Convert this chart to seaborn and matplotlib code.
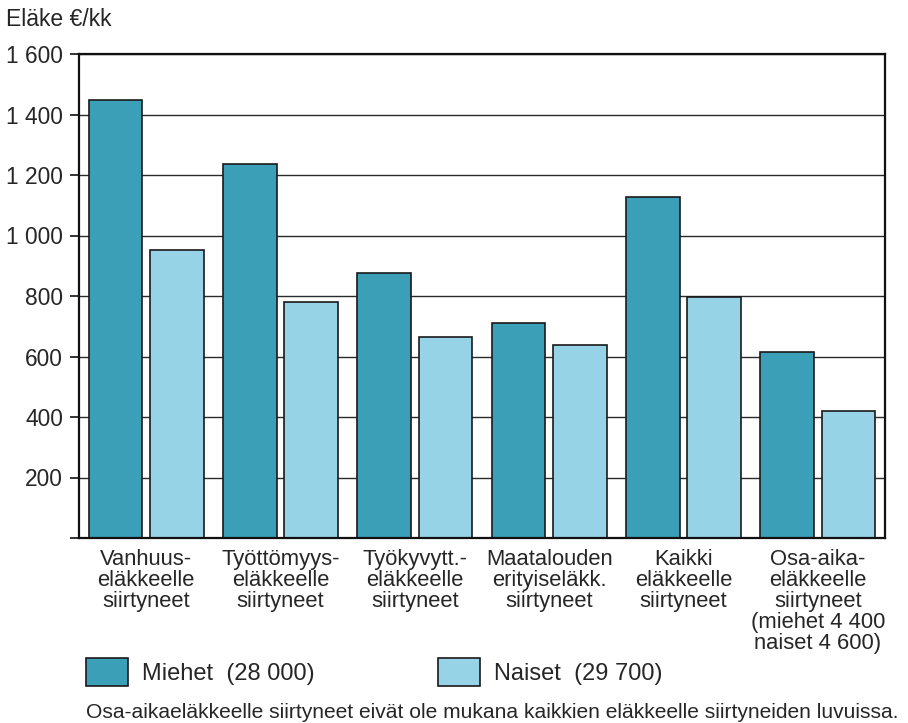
import numpy as np
import pandas as pd
import seaborn as sns
from matplotlib import pyplot as plt
from matplotlib.patches import Patch

# Tiedot
ryhmat = ["Vanhuus-\neläkkeelle\nsiirtyneet",
          "Työttömyys-\neläkkeelle\nsiirtyneet",
          "Työkyvytt.-\neläkkeelle\nsiirtyneet",
          "Maatalouden\nerityiseläkk.\nsiirtyneet",
          "Kaikki\neläkkeelle\nsiirtyneet",
          "Osa-aika-\neläkkeelle\nsiirtyneet\n(miehet 4 400\nnaiset 4 600)"]
miehet = [1448, 1236, 876, 711, 1127, 615]
naiset = [953, 780, 664, 638, 797, 420]
sarjat = ["Miehet  (28 000)", "Naiset  (29 700)"]
y_ticks = [0, 200, 400, 600, 800, 1000, 1200, 1400, 1600]
y_labels = ["", "200", "400", "600", "800", "1 000", "1 200", "1 400", "1 600"]

varit = ["#3c9fb8", "#97d3e6"]

sns.set_theme(style="white")
plt.rcParams['font.family'] = ['Liberation Sans', 'DejaVu Sans']

df = pd.DataFrame({
    "ryhma": ryhmat * 2,
    "sarja": [sarjat[0]] * len(ryhmat) + [sarjat[1]] * len(ryhmat),
    "arvo": miehet + naiset,
})

fig = plt.figure(figsize=(9.08, 7.23), dpi=100)
ax = fig.add_axes([79 / 908, 1 - 538 / 723, (885 - 79) / 908, (538 - 54) / 723])

ax.set_axisbelow(True)
ax.yaxis.grid(True, color="#2a2a2a", linewidth=1.0)
sns.barplot(data=df, x="ryhma", y="arvo", hue="sarja", palette=varit, saturation=1,
            width=0.91, gap=0.12, edgecolor="#1a1a1a", linewidth=1.2,
            ax=ax, legend=False)

ax.set_xlim(-0.5, len(ryhmat) - 0.5)
ax.set_ylim(0, 1600)
ax.set_yticks(y_ticks)
ax.set_yticklabels(y_labels, fontsize=16.4)
ax.set_xticks(range(len(ryhmat)))
ax.set_xticklabels(ryhmat, fontsize=15.8, linespacing=1.0, va="top")
ax.tick_params(axis="x", length=0, pad=8)
ax.tick_params(axis="y", length=6.5, width=1.2, color="#111111", pad=5, left=True)
ax.set_xlabel("")
ax.set_ylabel("")
for s in ax.spines.values():
    s.set_visible(True)
    s.set_color("#111111")
    s.set_linewidth(1.6)

fig.text(6 / 908, 1 - 20 / 723, "Eläke €/kk", fontsize=16.5, va="center", ha="left")

kahvat = [Patch(facecolor=varit[0], edgecolor="#1a1a1a", linewidth=1.2),
          Patch(facecolor=varit[1], edgecolor="#1a1a1a", linewidth=1.2)]
fig.legend(kahvat, sarjat, loc="center left", bbox_to_anchor=(86 / 908, 1 - 672 / 723),
           ncol=2, frameon=False, fontsize=17, handlelength=1.78, handleheight=1.4,
           handletextpad=0.6, columnspacing=5.2, borderaxespad=0, borderpad=0)

fig.text(86 / 908, 1 - 712 / 723,
         "Osa-aikaeläkkeelle siirtyneet eivät ole mukana kaikkien eläkkeelle siirtyneiden luvuissa.",
         fontsize=15.15, va="center", ha="left")

fig.savefig("out.png", dpi=100)
